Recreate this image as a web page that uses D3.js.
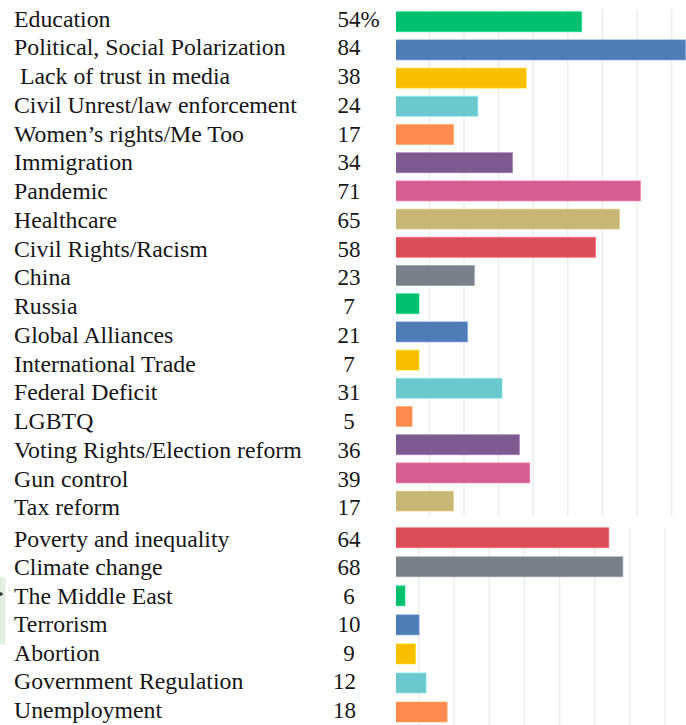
<!DOCTYPE html>
<html>
<head>
<meta charset="utf-8">
<script src="https://cdn.jsdelivr.net/npm/d3@7"></script>
<style>
  html, body { margin: 0; padding: 0; background: #ffffff; }
  svg { display: block; }
  text { font-family: "Liberation Serif", "DejaVu Serif", serif; fill: #161616; }
</style>
</head>
<body>
<svg id="chart" width="686" height="725"></svg>
<script>
// Issues and the share of respondents naming each one (percent)
const categories = [
  "Education", "Political, Social Polarization", " Lack of trust in media",
  "Civil Unrest/law enforcement", "Women\u2019s rights/Me Too", "Immigration",
  "Pandemic", "Healthcare", "Civil Rights/Racism", "China", "Russia",
  "Global Alliances", "International Trade", "Federal Deficit", "LGBTQ",
  "Voting Rights/Election reform", "Gun control", "Tax reform",
  "Poverty and inequality", "Climate change", "The Middle East", "Terrorism",
  "Abortion", "Government Regulation", "Unemployment"
];
const values = [54, 84, 38, 24, 17, 34, 71, 65, 58, 23, 7, 21, 7, 31, 5, 36, 39, 17,
                64, 68, 6, 10, 9, 12, 18];
const valueLabels = ["54%", "84", "38", "24", "17", "34", "71", "65", "58", "23", "7",
                     "21", "7", "31", "5", "36", "39", "17", "64", "68", "6", "10", "9", "12", "18"];
const gridTicks = [10, 20, 30, 40, 50, 60, 70, 80];
const palette = ["#00bf6f", "#507cb6", "#f9be00", "#6bc8cd", "#ff8b4f",
                 "#7d5a8f", "#d45e91", "#c8b677", "#dc4d5c", "#798089"];

const svg = d3.select("#chart");
const W = 686, H = 725;
const splitAt = 18;            // the list is drawn as two stacked panels
const barLeft = 396;           // bars are clipped to the plot area from here

const rows = categories.map((c, i) => ({ i, category: c, value: values[i], label: valueLabels[i] }));
const upperRows = rows.filter(d => d.i < splitAt);
const lowerRows = rows.filter(d => d.i >= splitAt);

// Horizontal scales, one per panel
const xUpper = d3.scaleLinear().domain([0, 80]).range([394.8, 671.6]);
const xLower = d3.scaleLinear().domain([0, 80]).range([383.9, 665.0]);

// Vertical positions of bars and of text rows
const yBarUpper = d3.scaleLinear().domain([0, splitAt - 1]).range([11.7, 491.1]);
const yBarLower = d3.scaleLinear().domain([splitAt, categories.length - 1]).range([527.7, 702]);
const yTextUpper = d3.scaleLinear().domain([0, splitAt - 1]).range([26.7, 515.3]);
const yTextLower = d3.scaleLinear().domain([splitAt, categories.length - 1]).range([546.6, 717.7]);
const barH = 20;

const color = d3.scaleOrdinal().domain(d3.range(10)).range(palette);

svg.append("rect").attr("width", W).attr("height", H).attr("fill", "#ffffff");

// Clip so bars begin at the plot's left edge
const defs = svg.append("defs");
defs.append("clipPath").attr("id", "plotClip")
  .append("rect").attr("x", barLeft).attr("y", 0).attr("width", W - barLeft).attr("height", H);

const plot = svg.append("g").attr("clip-path", "url(#plotClip)");

// Panels: scale, row scale, vertical extent of grid
const panels = [
  { rows: upperRows, x: xUpper, y: yBarUpper, y0: 9, y1: 516 },
  { rows: lowerRows, x: xLower, y: yBarLower, y0: 528, y1: H }
];

panels.forEach(p => {
  plot.append("g").selectAll("line")
    .data(gridTicks)
    .join("line")
    .attr("x1", d => p.x(d)).attr("x2", d => p.x(d))
    .attr("y1", p.y0).attr("y2", p.y1)
    .attr("stroke", "#ececec")
    .attr("stroke-width", 1.5);

  plot.append("g").selectAll("rect")
    .data(p.rows)
    .join("rect")
    .attr("x", p.x(0))
    .attr("y", d => p.y(d.i))
    .attr("width", d => p.x(d.value) - p.x(0))
    .attr("height", barH)
    .attr("fill", d => color(d.i % 10))
    .attr("stroke", d => d3.color(color(d.i % 10)).brighter(0.5))
    .attr("stroke-opacity", 0.6)
    .attr("stroke-width", 1);
});

// Category names
const yText = i => (i < splitAt ? yTextUpper(i) : yTextLower(i));
svg.append("g").selectAll("text")
  .data(rows)
  .join("text")
  .attr("x", 14)
  .attr("y", d => yText(d.i))
  .style("white-space", "pre")
  .attr("font-size", 23.8)
  .text(d => d.category);

// Value column
const valueX = i => (i >= 23 ? 344.5 : 349);
const vals = svg.append("g");
rows.forEach(d => {
  const num = d.label.replace("%", "");
  const t = vals.append("text")
    .attr("x", valueX(d.i))
    .attr("y", yText(d.i))
    .attr("font-size", 23)
    .attr("text-anchor", "middle")
    .text(num);
  if (d.label.endsWith("%")) {
    const w = t.node().getComputedTextLength();
    vals.append("text")
      .attr("x", valueX(d.i) + w / 2)
      .attr("y", yText(d.i))
      .attr("font-size", 23)
      .text("%");
  }
});

// Small highlight tab at the left edge
svg.append("rect")
  .attr("x", 0).attr("y", 578).attr("width", 5).attr("height", 66)
  .attr("fill", "#e3f1e0").attr("stroke", "#cfe5cb").attr("stroke-width", 0.6);
svg.append("circle").attr("cx", 1).attr("cy", 594).attr("r", 1.8).attr("fill", "#333");
</script>
</body>
</html>
